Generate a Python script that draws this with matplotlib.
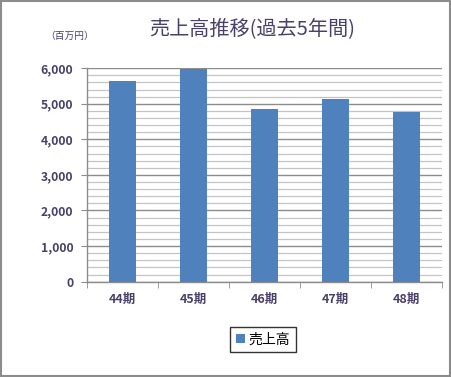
import matplotlib
matplotlib.use('Agg')
import matplotlib.pyplot as plt
from matplotlib.patches import Rectangle
from matplotlib.ticker import MultipleLocator, FuncFormatter

plt.rcParams['font.family'] = ['Noto Sans CJK JP', 'DejaVu Sans']

periods = ['44期', '45期', '46期', '47期', '48期']
sales = [5640, 5990, 4850, 5135, 4770]
series_name = '売上高'

BAR = '#4f81bd'
INK = '#4a4068'
MAJOR = '#8c8c8c'
MINOR = '#c4c4c4'

fig = plt.figure(figsize=(4.51, 3.77), dpi=100)
ax = fig.add_axes([0.193, 0.253, 0.787, 0.566])

x = range(len(periods))
bars = ax.bar(x, sales, width=0.39, color=BAR, zorder=3, label=series_name)

ax.set_xlim(-0.5, len(periods) - 0.5)
ax.set_ylim(0, 6000)
ax.yaxis.set_major_locator(MultipleLocator(1000))
ax.yaxis.set_minor_locator(MultipleLocator(200))
ax.yaxis.set_major_formatter(FuncFormatter(lambda v, p: f'{int(v):,}'))
ax.grid(True, which='minor', axis='y', color=MINOR, linewidth=0.9, zorder=1)
ax.grid(True, which='major', axis='y', color=MAJOR, linewidth=1.0, zorder=2)

ax.set_xticks(list(x))
ax.set_xticklabels(periods, fontsize=9, fontweight='bold', color=INK)
ax.set_xticks([i + 0.5 for i in range(-1, len(periods))], minor=True)
ax.tick_params(axis='x', which='major', length=0, pad=8)
ax.tick_params(axis='x', which='minor', length=4, color=MAJOR, direction='out')
ax.tick_params(axis='y', which='major', length=4, color=MAJOR, labelsize=8.8,
               labelcolor=INK, pad=6)
ax.tick_params(axis='y', which='minor', length=0)
for lab in ax.get_yticklabels():
    lab.set_fontweight('bold')

for side in ['top', 'right']:
    ax.spines[side].set_visible(False)
for side in ['left', 'bottom']:
    ax.spines[side].set_color(MAJOR)
    ax.spines[side].set_linewidth(1.0)

fig.text(0.558, 0.924, '売上高推移(過去5年間)', fontsize=14.5, color=INK,
         ha='center', va='center')
fig.text(0.155, 0.905, '（百万円）', fontsize=7, color=INK,
         ha='center', va='center')

leg = fig.legend(handles=[bars], labels=[series_name], loc='center',
                 bbox_to_anchor=(0.583, 0.1), frameon=True, fancybox=False,
                 fontsize=10, handlelength=0.7, handleheight=0.7,
                 handletextpad=0.25, borderpad=0.4, borderaxespad=0)
leg.get_frame().set_edgecolor('black')
leg.get_frame().set_linewidth(1.0)

fig.patches.append(Rectangle((0.002, 0.003), 0.995, 0.994,
                             transform=fig.transFigure, fill=False,
                             edgecolor='#8c8c8c', linewidth=1.5))

fig.savefig('out.png', dpi=100)
